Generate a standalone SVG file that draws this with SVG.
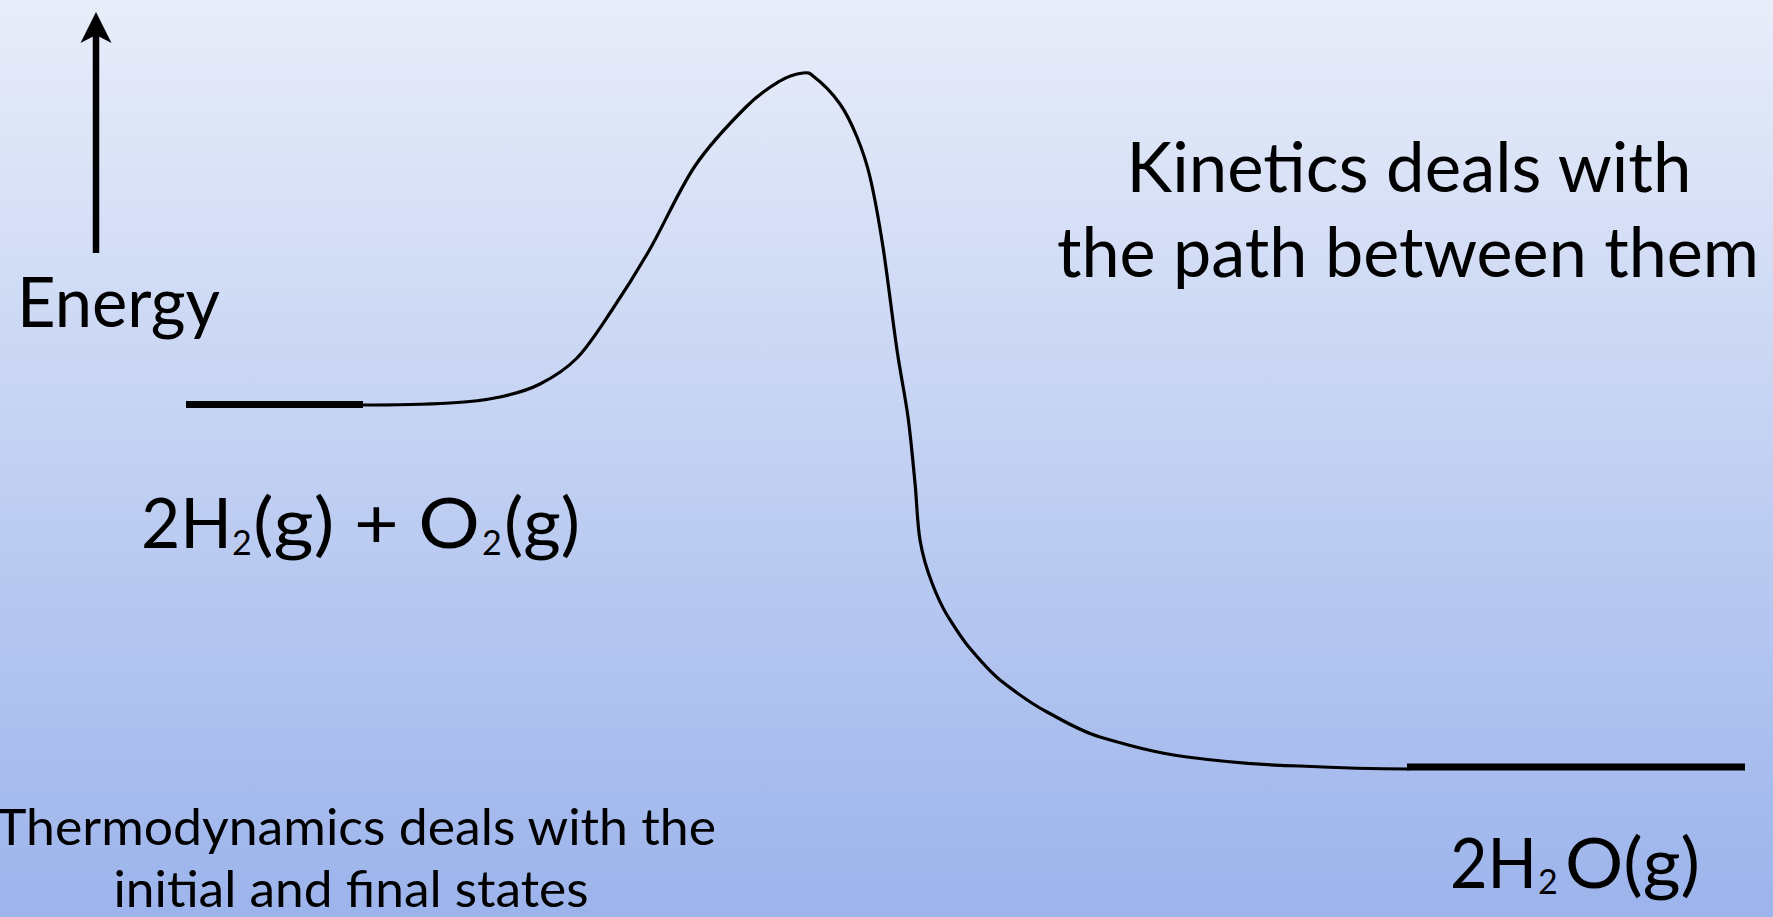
<svg xmlns="http://www.w3.org/2000/svg" width="1773" height="917" viewBox="0 0 1773 917">
  <defs>
    <linearGradient id="bg" x1="0" y1="0" x2="0" y2="1">
      <stop offset="0" stop-color="#e8edf9"/>
      <stop offset="1" stop-color="#9cb4ec"/>
    </linearGradient>
    <marker id="head" markerUnits="userSpaceOnUse" viewBox="-14 -16 33 32" refX="0" refY="0" markerWidth="33" markerHeight="32" orient="auto">
      <path d="M18,0 L-13,-15.5 L-5,0 L-13,15.5 Z" fill="#000"/>
    </marker>
    <style>
      .t { font-family: Lato, "Open Sans", "Liberation Sans", sans-serif; fill: #000; }
      .big { font-size: 70px; }
      .mid { font-size: 50px; }
      .sub { font-size: 34px; }
      .level { stroke: #000; stroke-width: 7; fill: none; }
      .curve { stroke: #000; stroke-width: 3.2; fill: none; stroke-linecap: round; stroke-linejoin: round; }
    </style>
  </defs>
  <rect x="0" y="0" width="1773" height="917" fill="url(#bg)"/>

  <g id="axis">
    <line x1="96" y1="253" x2="96" y2="30" stroke="#000" stroke-width="6.5" marker-end="url(#head)"/>
    <text class="t big" x="17" y="327" textLength="203" lengthAdjust="spacingAndGlyphs">Energy</text>
  </g>

  <g id="reactants">
    <line class="level" x1="186" y1="404.5" x2="363" y2="404.5"/>
    <text class="t big" y="548"><tspan x="141" textLength="91" lengthAdjust="spacingAndGlyphs">2H</tspan><tspan class="sub" x="232" y="555">2</tspan><tspan x="253" y="548" textLength="227" lengthAdjust="spacingAndGlyphs">(g) + O</tspan><tspan class="sub" x="482" y="555">2</tspan><tspan x="504" y="548" textLength="76" lengthAdjust="spacingAndGlyphs">(g)</tspan></text>
  </g>

  <g id="products">
    <line class="level" x1="1407" y1="767" x2="1745" y2="767"/>
    <text class="t big" y="888"><tspan x="1450" textLength="87" lengthAdjust="spacingAndGlyphs">2H</tspan><tspan class="sub" x="1538" y="894">2</tspan><tspan x="1565" y="888" textLength="135" lengthAdjust="spacingAndGlyphs">O(g)</tspan></text>
  </g>

  <g id="connectors">
    <path class="curve" d="M362,405 C390,405 427,404.3 450,403 C473,401.7 485,400.2 500,397 C515,393.8 527.2,390.5 540,384 C552.8,377.5 565,370.3 577,358 C589,345.7 599.8,328.2 612,310 C624.2,291.8 636.2,273 650,249 C663.8,225 679,189.7 695,166 C711,142.3 731.8,121.2 746,107 C760.2,92.8 770.5,86.7 780,81 C789.5,75.3 797.2,73.7 803,73 C808.8,72.3 810,73 813,76 C821.2,82.2 833,94 840,104 C847,114 852,124.8 857,137 C862,149.2 865.7,158.7 870,177 C874.3,195.3 878.5,218.2 883,247 C887.5,275.8 892.8,321.7 897,350 C901.2,378.3 905,394.8 908,417 C911,439.2 913,462.5 915,483 C917,503.5 917.2,523.3 920,540 C922.8,556.7 927,570 932,583 C937,596 941,605 947,615 C954,626 960,636 968,646 C978,658 988,670 1000,680 C1014,691 1030,703 1047,712 C1064,721 1080,731 1100,737 C1128,745 1155,753 1187,757 C1225,762 1262,765 1300,766 C1340,768 1380,769 1408,769"/>
  </g>

  <g id="kinetics-note">
    <text class="t big" x="1409" y="192" text-anchor="middle" textLength="565" lengthAdjust="spacingAndGlyphs">Kinetics deals with</text>
    <text class="t big" x="1408" y="277" text-anchor="middle" textLength="702" lengthAdjust="spacingAndGlyphs">the path between them</text>
  </g>

  <g id="thermo-note">
    <text class="t mid" x="356" y="845" text-anchor="middle" textLength="720" lengthAdjust="spacingAndGlyphs">Thermodynamics deals with the</text>
    <text class="t mid" x="351" y="907" text-anchor="middle" textLength="475" lengthAdjust="spacingAndGlyphs">initial and final states</text>
  </g>
</svg>
